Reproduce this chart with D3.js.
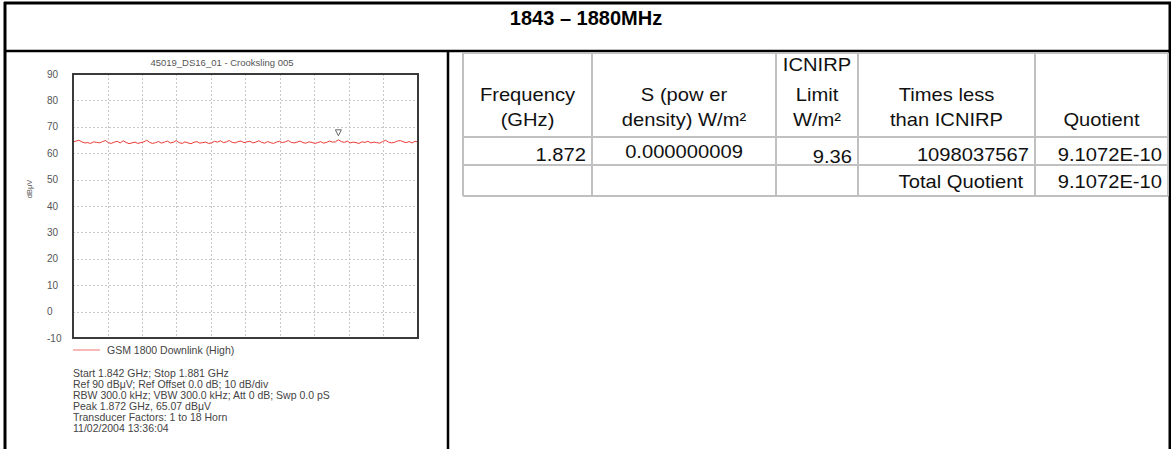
<!DOCTYPE html>
<html>
<head>
<meta charset="utf-8">
<script src="https://cdn.jsdelivr.net/npm/d3@7"></script>
<style>
  body { margin: 0; background: #fff; }
  svg { display: block; font-family: "Liberation Sans", Arial, sans-serif; }
</style>
</head>
<body>
<svg width="1171" height="449"></svg>
<script>
const svg = d3.select("svg");

const width = 1171;
const height = 449;

// data
const pageTitle = "1843 – 1880MHz";
const chartTitle = "45019_DS16_01 - Crooksling 005";
const yTicks = [90, 80, 70, 60, 50, 40, 30, 20, 10, 0, -10];
const startGHz = 1.842;
const stopGHz = 1.881;
const peakGHz = 1.872;
const peakLevel = 65.07;
const traceLevels = [
  64.2, 64.6, 64.9, 64.3, 63.9, 64.0, 63.7, 64.3, 64.1, 63.9,
  64.4, 64.8, 64.0, 63.7, 64.2, 64.5, 63.9, 64.7, 64.1, 63.6,
  63.9, 64.2, 63.7, 64.0, 64.3, 64.9, 64.1, 63.7, 64.0, 64.4,
  63.8, 64.2, 64.6, 63.9, 64.1, 64.8, 64.0, 63.7, 64.3, 63.9,
  63.6, 64.1, 64.4, 63.8, 64.0, 64.2, 63.7, 63.9, 64.5, 64.2,
  64.7, 64.0, 64.3, 64.8, 64.1, 63.9, 64.4, 64.6, 64.0, 64.3,
  64.5, 63.9, 64.2, 64.7, 64.1, 63.8, 64.4, 64.0, 63.7, 64.2,
  64.5, 64.0, 64.3, 64.8, 64.1, 63.9, 64.2, 64.6, 64.0, 63.8,
  64.3, 64.1, 63.7, 64.0, 64.4, 63.8, 64.1, 64.6, 64.2, 64.3,
  65.07, 64.4, 64.1, 64.6, 63.9, 64.2, 64.0, 63.7, 64.3, 64.1,
  64.5, 63.9, 64.2, 64.0, 63.8, 64.4, 64.9, 64.2, 63.9, 64.1,
  64.6, 64.8, 64.3, 64.0, 64.4, 63.9, 64.5, 64.2
];
const legendLabel = "GSM 1800 Downlink (High)";
const infoLines = [
  "Start 1.842 GHz; Stop 1.881 GHz",
  "Ref 90 dBμV; Ref Offset 0.0 dB; 10 dB/div",
  "RBW 300.0 kHz; VBW 300.0 kHz; Att 0 dB; Swp 0.0 pS",
  "Peak 1.872 GHz, 65.07 dBμV",
  "Transducer Factors: 1 to 18 Horn",
  "11/02/2004 13:36:04"
];
const headerLines = [
  ["Frequency", "(GHz)"],
  ["S (pow er", "density) W/m²"],
  ["ICNIRP", "Limit", "W/m²"],
  ["Times less", "than ICNIRP"],
  ["Quotient"]
];
const rowValues = ["1.872", "0.000000009", "9.36", "1098037567", "9.1072E-10"];
const totalValues = ["", "", "", "Total Quotient", "9.1072E-10"];

// layout
const plot = { left: 73, top: 74, right: 418, bottom: 338 };
const colEdges = [463, 592, 776, 858, 1035, 1168];
const rowEdges = [53, 137, 165, 196];
const valueAlign = ["end", "middle", "end", "end", "end"];
const totalAlign = ["end", "middle", "end", "end", "end"];
const textStretch = 1.12;

// frame of the page
const frame = svg.append("g").attr("stroke", "#000");
frame.append("line").attr("x1", 4).attr("x2", width).attr("y1", 3).attr("y2", 3).attr("stroke-width", 3);
frame.append("line").attr("x1", 5).attr("x2", 5).attr("y1", 2).attr("y2", height).attr("stroke-width", 3);
frame.append("line").attr("x1", 1170).attr("x2", 1170).attr("y1", 2).attr("y2", height).attr("stroke-width", 3);
frame.append("line").attr("x1", 4).attr("x2", width).attr("y1", 51).attr("y2", 51).attr("stroke-width", 2.5);
frame.append("line").attr("x1", 448).attr("x2", 448).attr("y1", 51).attr("y2", height).attr("stroke-width", 2.5);

svg.append("text")
  .attr("x", 586).attr("y", 25)
  .attr("text-anchor", "middle")
  .attr("font-size", 20).attr("font-weight", "bold")
  .text(pageTitle);

// ---- spectrum plot ----
const x = d3.scaleLinear().domain([startGHz, stopGHz]).range([plot.left, plot.right]);
const y = d3.scaleLinear().domain([-10, 90]).range([plot.bottom, plot.top]);
const sweep = d3.scaleLinear().domain([0, traceLevels.length - 1]).range([startGHz, stopGHz]);
const div = d3.scaleLinear().domain([0, 10]).range([startGHz, stopGHz]);

svg.append("text")
  .attr("x", 222).attr("y", 66)
  .attr("text-anchor", "middle")
  .attr("font-size", 9.5).attr("fill", "#555")
  .text(chartTitle);

const grid = svg.append("g")
  .attr("stroke", "#c8c8c8")
  .attr("stroke-width", 1)
  .attr("stroke-dasharray", "2,2");

grid.selectAll(".hgrid")
  .data(yTicks.slice(1, -1))
  .enter().append("line")
  .attr("x1", plot.left).attr("x2", plot.right)
  .attr("y1", d => Math.round(y(d)) + 0.5).attr("y2", d => Math.round(y(d)) + 0.5);

grid.selectAll(".vgrid")
  .data(d3.range(1, 10))
  .enter().append("line")
  .attr("x1", d => Math.round(x(div(d))) + 0.5).attr("x2", d => Math.round(x(div(d))) + 0.5)
  .attr("y1", plot.top).attr("y2", plot.bottom);

svg.append("g")
  .selectAll("text")
  .data(yTicks)
  .enter().append("text")
  .attr("x", 47)
  .attr("y", d => y(d) + 3.5)
  .attr("font-size", 10).attr("fill", "#555")
  .text(d => d);

svg.append("text")
  .attr("transform", "translate(32,189) rotate(-90)")
  .attr("text-anchor", "middle")
  .attr("font-size", 7.5).attr("fill", "#555")
  .text("dBμV");

const line = d3.line()
  .x((d, i) => x(sweep(i)))
  .y(d => y(d));

svg.append("path")
  .datum(traceLevels)
  .attr("d", line)
  .attr("fill", "none")
  .attr("stroke", "#ec3b36")
  .attr("stroke-width", 1);

svg.append("rect")
  .attr("x", plot.left).attr("y", plot.top)
  .attr("width", plot.right - plot.left).attr("height", plot.bottom - plot.top)
  .attr("fill", "none").attr("stroke", "#3a3a3a").attr("stroke-width", 2);

// peak marker
const px = x(peakGHz), py = y(peakLevel) - 4;
svg.append("path")
  .attr("d", `M${px - 3},${py - 6} L${px + 3},${py - 6} L${px},${py} Z`)
  .attr("fill", "none").attr("stroke", "#666").attr("stroke-width", 1);

// legend
svg.append("line")
  .attr("x1", 73).attr("x2", 100).attr("y1", 350).attr("y2", 350)
  .attr("stroke", "#f4a0a0").attr("stroke-width", 1.5);
svg.append("text")
  .attr("x", 107).attr("y", 354)
  .attr("font-size", 10.5).attr("fill", "#444")
  .text(legendLabel);

svg.append("g")
  .selectAll("text")
  .data(infoLines)
  .enter().append("text")
  .attr("x", 73)
  .attr("y", (d, i) => 377 + i * 11)
  .attr("font-size", 10.5).attr("fill", "#444")
  .text(d => d);

// ---- table ----
const table = svg.append("g");
const tableLines = table.append("g").attr("stroke", "#c0c0c0").attr("stroke-width", 2);

tableLines.selectAll(".col")
  .data(colEdges)
  .enter().append("line")
  .attr("x1", d => d).attr("x2", d => d)
  .attr("y1", rowEdges[0]).attr("y2", rowEdges[rowEdges.length - 1]);

tableLines.selectAll(".row")
  .data(rowEdges)
  .enter().append("line")
  .attr("x1", colEdges[0]).attr("x2", colEdges[colEdges.length - 1])
  .attr("y1", d => d).attr("y2", d => d);

function cellText(tx, ty, anchor, str) {
  table.append("g")
    .attr("transform", `translate(${tx},${ty}) scale(${textStretch},1)`)
    .append("text")
    .attr("text-anchor", anchor)
    .attr("font-size", 18)
    .attr("fill", "#111")
    .text(str);
}

function anchorX(i, anchor) {
  if (anchor === "end") return colEdges[i + 1] - 6;
  if (anchor === "start") return colEdges[i] + 6;
  return (colEdges[i] + colEdges[i + 1]) / 2;
}

const headerBase = [71, 101, 126];
headerLines.forEach((lines, i) => {
  lines.forEach((str, j) => {
    const b = headerBase[headerBase.length - lines.length + j];
    cellText(anchorX(i, "middle"), b, "middle", str);
  });
});

rowValues.forEach((str, i) => {
  const b = i === 1 ? 158 : (i === 2 ? 163 : 161);
  cellText(anchorX(i, valueAlign[i]), b, valueAlign[i], str);
});

totalValues.forEach((str, i) => {
  if (!str) return;
  const tx = i === 3 ? colEdges[i + 1] - 12 : anchorX(i, totalAlign[i]);
  cellText(tx, 188, totalAlign[i], str);
});
</script>
</body>
</html>
